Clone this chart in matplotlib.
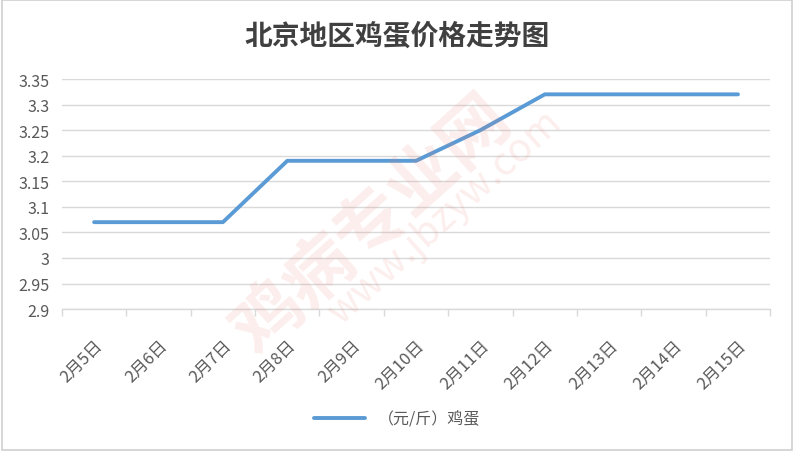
import matplotlib.pyplot as plt
from matplotlib.patches import Rectangle

plt.rcParams['font.family'] = ['Noto Sans CJK SC', 'DejaVu Sans']

dates = ['2月5日', '2月6日', '2月7日', '2月8日', '2月9日', '2月10日',
         '2月11日', '2月12日', '2月13日', '2月14日', '2月15日']
prices = [3.07, 3.07, 3.07, 3.19, 3.19, 3.19, 3.25, 3.32, 3.32, 3.32, 3.32]
yticks = [2.9, 2.95, 3.0, 3.05, 3.1, 3.15, 3.2, 3.25, 3.3, 3.35]
ylabels = ['2.9', '2.95', '3', '3.05', '3.1', '3.15', '3.2', '3.25', '3.3', '3.35']

txt = '#595959'
grid = '#d9d9d9'

fig = plt.figure(figsize=(7.94, 4.52), dpi=100)
ax = fig.add_axes([0.078, 0.314, 0.892, 0.509])

# faint watermark
fig.text(0.47, 0.50, '鸡病专业网', fontsize=50, fontweight='bold', color='#e8736b',
         alpha=0.12, rotation=42, ha='center', va='center')
fig.text(0.56, 0.52, 'www.jbzyw.com', fontsize=28, color='#e8736b',
         alpha=0.12, rotation=42, ha='center', va='center')

x = list(range(len(dates)))
ax.plot(x, prices, color='#5b9bd5', linewidth=2.8, solid_capstyle='round', zorder=3)

ax.set_xlim(-0.5, len(dates) - 0.5)
ax.set_ylim(2.9, 3.35)
ax.set_yticks(yticks)
ax.set_yticklabels(ylabels)
ax.yaxis.grid(True, color=grid, linewidth=1)
ax.set_axisbelow(True)

ax.set_xticks(x)
ax.set_xticklabels(dates, rotation=45, ha='right', va='top', rotation_mode='anchor')
ax.set_xticks([i - 0.5 for i in range(len(dates) + 1)], minor=True)
ax.tick_params(axis='x', which='major', length=0, pad=20, labelsize=12, labelcolor=txt)
ax.tick_params(axis='x', which='minor', length=5, color=grid, width=1)
ax.tick_params(axis='y', length=0, pad=9, labelsize=11.5, labelcolor=txt)

for s in ['top', 'right', 'left']:
    ax.spines[s].set_visible(False)
ax.spines['bottom'].set_color(grid)
ax.spines['bottom'].set_linewidth(1)

fig.text(0.5, 0.918, '北京地区鸡蛋价格走势图', ha='center', va='center',
         fontsize=20, fontweight='bold', color='#404040')

leg = fig.legend(['（元/斤）鸡蛋'], loc='center', bbox_to_anchor=(0.5, 0.07),
                 frameon=False, fontsize=11.5, handlelength=3.2)
for t in leg.get_texts():
    t.set_color(txt)

fig.patches.append(Rectangle((0.002, 0.003), 0.996, 0.994, transform=fig.transFigure,
                             fill=False, edgecolor='#d0d0d0', linewidth=1.2))

fig.savefig('out.png', dpi=100)
